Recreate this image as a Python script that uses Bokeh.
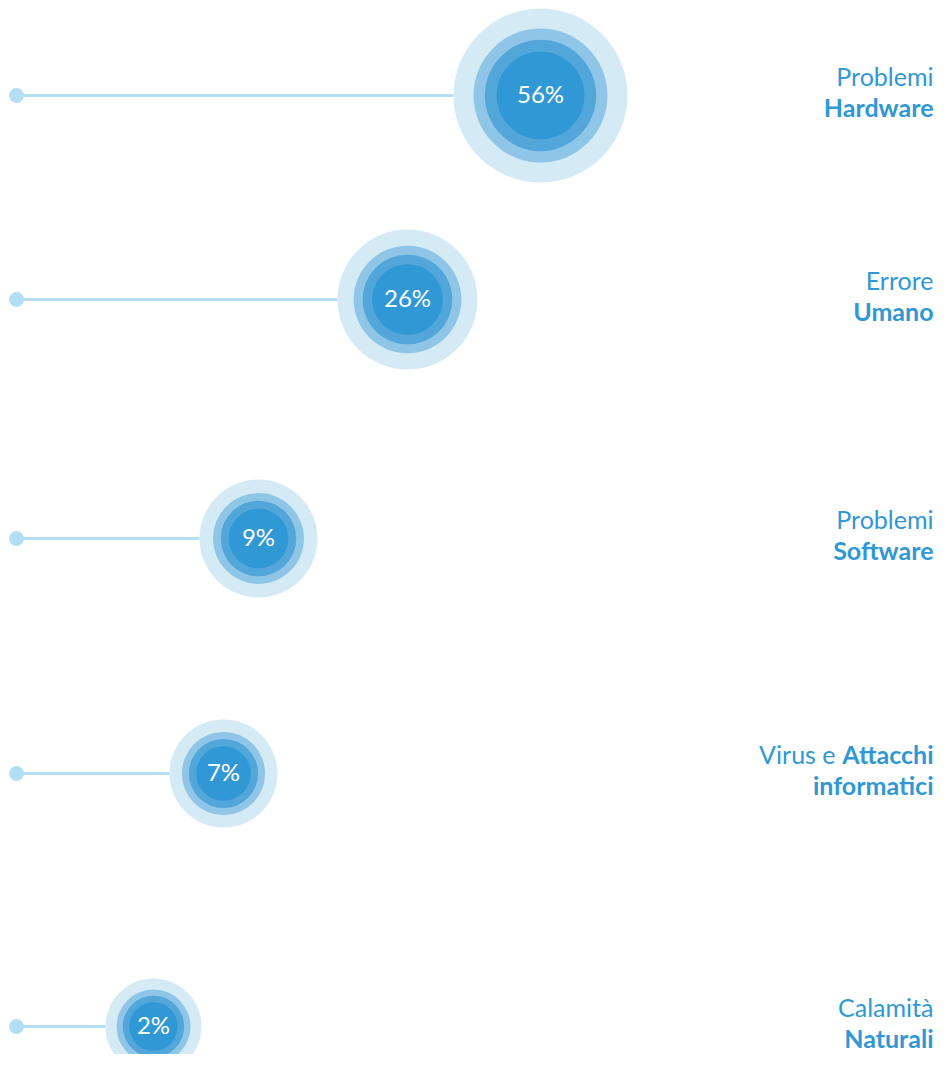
from bokeh.plotting import figure
from bokeh.models import Range1d
from bokeh.core.properties import value
from bokeh.embed import file_html
from bokeh.resources import INLINE

# ---- data ----
values = [56, 26, 9, 7, 2]
label_top = ["Problemi", "Errore", "Problemi", "", "Calamità"]
label_bottom = ["Hardware", "Umano", "Software", "informatici", "Naturali"]
label_top_bold = ["", "", "", "Attacchi", ""]
label_top_regular_prefix = ["", "", "", "Virus e", ""]

# ---- layout (pixel coordinates) ----
cx = [540, 407, 258, 223, 153]
cy = [95, 299, 538, 773, 1026]
r_outer = [87, 70, 59, 54, 48]

FONT = "Lato"
BLUE = "#2f98d5"

p = figure(width=936, height=1054, output_backend="svg", toolbar_location=None,
           x_range=Range1d(0, 936), y_range=Range1d(1054, 0),
           min_border=0, outline_line_color=None)
p.axis.visible = False
p.grid.visible = False
p.background_fill_color = "white"
p.border_fill_color = "white"

line_x0 = [16] * len(values)
line_x1 = [cx[i] - r_outer[i] for i in range(len(values))]
p.segment(x0=line_x0, y0=cy, x1=line_x1, y1=cy, line_color="#b3def4", line_width=3)
p.scatter(x=line_x0, y=cy, size=15, marker="circle", fill_color="#b3def4", line_color=None)

ring_fracs = [1.0, 0.77, 0.64, 0.505]
ring_colors = ["#d4eaf5", "#8fc6e7", "#52a6da", "#2f98d5"]
for frac, col in zip(ring_fracs, ring_colors):
    p.circle(x=cx, y=cy, radius=[r * frac for r in r_outer], fill_color=col, line_color=None)

pct = [f"{v}%" for v in values]
p.text(x=cx, y=[y - 2 for y in cy], text=pct, text_align="center", text_baseline="middle",
       text_color="white", text_font=value(FONT), text_font_size="24px")

RX = 933
FS = "25px"
p.text(x=[RX] * 5, y=[y - 20 for y in cy], text=label_top, text_align="right",
       text_baseline="middle", text_color=BLUE, text_font=value(FONT),
       text_font_size=FS, text_font_style="normal")
p.text(x=[RX] * 5, y=[y + 11 for y in cy], text=label_bottom, text_align="right",
       text_baseline="middle", text_color=BLUE, text_font=value(FONT),
       text_font_size=FS, text_font_style="bold")
p.text(x=[RX] * 5, y=[y - 20 for y in cy], text=label_top_bold, text_align="right",
       text_baseline="middle", text_color=BLUE, text_font=value(FONT),
       text_font_size=FS, text_font_style="bold")
p.text(x=[RX - 98] * 5, y=[y - 20 for y in cy], text=label_top_regular_prefix, text_align="right",
       text_baseline="middle", text_color=BLUE, text_font=value(FONT),
       text_font_size=FS, text_font_style="normal")

open("out.html", "w").write(file_html(p, INLINE))
